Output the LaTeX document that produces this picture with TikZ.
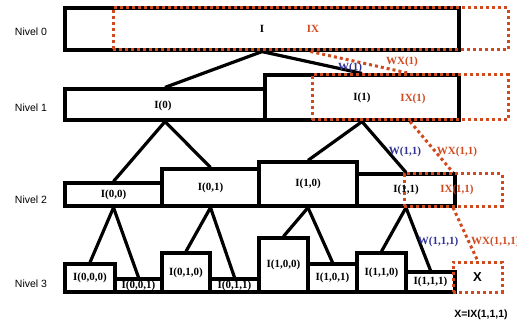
\documentclass[tikz,border=0pt]{standalone}
\usepackage{fontspec}
\setmainfont{Liberation Serif}
\setsansfont{Liberation Sans}
\definecolor{ixred}{HTML}{D04A1E}
\definecolor{wblue}{HTML}{2E3192}

\begin{document}
\begin{tikzpicture}[x=1pt,y=-1pt,
    box/.style={draw=black,line width=3.2pt,inner sep=0pt},
    xbox/.style={draw=ixred,line width=3pt,dash pattern=on 3pt off 3pt,inner sep=0pt},
    tie/.style={black,line width=3.2pt},
    xtie/.style={ixred,line width=3pt,dash pattern=on 3pt off 3pt},
    lbl/.style={font=\fontsize{11}{12}\selectfont\bfseries,inner sep=0pt},
    xlbl/.style={lbl,ixred},
    wlbl/.style={lbl,wblue},
    nivel/.style={font=\sffamily\fontsize{10.5}{12}\selectfont}]
  \useasboundingbox (0,0) rectangle (517,326);

  % ===== NIVEL LABELS =====
  \foreach \n/\y in {0/32,1/108,2/200,3/284}
    \node[nivel] (niv\n) at (31,\y) {Nivel \n};

  % ===== BLACK BOXES =====
  \node[box,minimum width=394,minimum height=42] (i) at (262,29) {};
  \node[box,minimum width=200,minimum height=31] (i0) at (165,104.5) {};
  \node[box,minimum width=194,minimum height=45] (i1) at (362,97.5) {};
  \node[box,minimum width=97,minimum height=23] (i00) at (113.5,194.5) {};
  \node[box,minimum width=97,minimum height=37] (i01) at (210.5,187.5) {};
  \node[box,minimum width=98,minimum height=44] (i10) at (308,184) {};
  \node[box,minimum width=98,minimum height=32] (i11) at (406,190) {};
  \foreach \n/\x/\y/\w/\h in {000/90/278/50/28,001/138.5/285.5/47/13,
      010/186/272.5/48/39,011/234.5/285.5/49/13,100/283.5/265/49/54,
      101/332.5/278/49/28,110/381.5/272.5/49/39,111/430.5/282/49/20}
    \node[box,minimum width=\w,minimum height=\h] (i\n) at (\x,\y) {};

  % ===== TREE =====
  \draw[tie] (i.south) -- (i0.north);
  \draw[tie] (i.south) -- (i1.north);
  \foreach \p in {0,1,00,01,10,11} {
    \draw[tie] (i\p.south) -- (i\p0.north);
    \draw[tie] (i\p.south) -- (i\p1.north);
  }

  % ===== IX BOXES =====
  \node[xbox,minimum width=395,minimum height=42] (ix) at (310.5,29) {};
  \node[xbox,minimum width=196,minimum height=45] (ix1) at (410,97.5) {};
  \node[xbox,minimum width=98,minimum height=32] (ix11) at (453,190) {};
  \node[xbox,minimum width=49,minimum height=30] (ix111) at (477.5,277) {};
  \draw[xtie] (ix.south) -- (ix1.north);
  \draw[xtie] (ix1.south) -- (ix11.north);
  \draw[xtie] (ix11.south) -- (ix111.north);

  % ===== LABELS =====
  \node[lbl] (li) at (i) {I};
  \node[lbl] (li0) at (163,106) {I(0)};
  \node[lbl] (li1) at (i1) {I(1)};
  \node[lbl] (li00) at (i00) {I(0,0)};
  \node[lbl] (li01) at (i01) {I(0,1)};
  \node[lbl] (li10) at (i10) {I(1,0)};
  \node[lbl] (li11) at (i11) {I(1,1)};
  \foreach \n/\t in {000/{I(0,0,0)},001/{I(0,0,1)},010/{I(0,1,0)},011/{I(0,1,1)},
      100/{I(1,0,0)},101/{I(1,0,1)},110/{I(1,1,0)},111/{I(1,1,1)}}
    \node[lbl] (li\n) at (i\n) {\t};
  \node[xlbl] (lix) at (313,29) {IX};
  \node[xlbl] (lix1) at (413,99) {IX(1)};
  \node[xlbl] (lix11) at (457,190) {IX(1,1)};
  \node[font=\sffamily\bfseries\fontsize{13}{14}\selectfont] (lx) at (ix111) {X};

  \node[wlbl] (w1) at (350,68) {W(1)};
  \node[xlbl] (wx1) at (402,62) {WX(1)};
  \node[wlbl] (w11) at (405,152) {W(1,1)};
  \node[xlbl] (wx11) at (457,152) {WX(1,1)};
  \node[wlbl] (w111) at (438,242) {W(1,1,1)};
  \node[xlbl,anchor=west] (wx111) at (471,242) {WX(1,1,1)};

  \node[font=\sffamily\bfseries\fontsize{10.5}{12}\selectfont] (eq) at (481,315) {X=IX(1,1,1)};

\end{tikzpicture}
\end{document}
